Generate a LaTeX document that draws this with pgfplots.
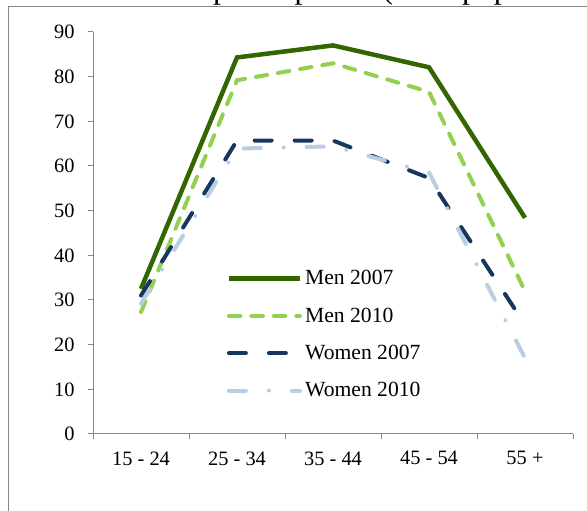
\documentclass[border=0pt]{standalone}
\usepackage{fontspec}
\setmainfont{Liberation Serif}
\usepackage{pgfplots}
\pgfplotsset{compat=1.18}
\definecolor{menA}{HTML}{336600}
\definecolor{menB}{HTML}{92D050}
\definecolor{womA}{HTML}{17375E}
\definecolor{womB}{HTML}{B9CDE5}
\definecolor{axgray}{HTML}{868686}
\begin{document}
\begin{tikzpicture}[x=1bp,y=1bp]
\begin{scope}
\clip (0,0) rectangle (587,511);
\draw[axgray, line width=1bp] (8.5,504) rectangle (640,-40);
\node[anchor=base west, inner sep=0pt, font=\fontsize{32}{38}\selectfont] at (213,512) {participation (\% of population)};
\begin{axis}[
  at={(93bp,77bp)}, anchor=origin, scale only axis, width=480bp, height=402bp,
  xmin=0, xmax=5, ymin=0, ymax=90,
  axis x line=bottom, axis y line=left,
  axis line style={draw=axgray, line width=1bp, -},
  xtick={0,1,2,3,4,5},
  xticklabels={15 - 24,25 - 34,35 - 44,45 - 54,55 +},
  x tick label as interval,
  ytick={0,10,...,90},
  tick align=outside, major tick length=5bp,
  tick style={draw=axgray, line width=1bp},
  ticklabel style={font=\fontsize{20.5}{24}\selectfont},
  xticklabel style={yshift=-9bp},
  yticklabel style={xshift=-10bp},
  /pgf/number format/assume math mode=true,
  legend cell align=left,
  legend style={draw=none, fill=none, at={(axis cs:1.39,37.1)}, anchor=north west,
    font=\fontsize{21.7}{26}\selectfont, row sep=17.5bp, inner sep=0pt,
    nodes={inner sep=2bp},
    /tikz/every odd column/.append style={column sep=1bp}},
  legend image code/.code={\draw[#1] (0bp,0bp) -- (71bp,0bp);},
]
\addplot[menA, line width=4.5bp] coordinates {(0.5,32.5) (1.5,84.3) (2.5,87.0) (3.5,82.1) (4.5,48.4)};
\addlegendentry{Men 2007}
\addplot[menB, line width=4bp, line cap=round, dash pattern=on 11.5bp off 11bp] coordinates {(0.5,27.3) (1.5,79.2) (2.5,83.0) (3.5,76.6) (4.5,32)};
\addlegendentry{Men 2010}
\addplot[womA, line width=4bp, line cap=round, dash pattern=on 17bp off 23bp] coordinates {(0.5,31.0) (1.5,65.7) (2.5,65.7) (3.5,57.3) (4.5,24.5)};
\addlegendentry{Women 2007}
\addplot[womB, line width=4bp, line cap=round, dash pattern=on 17bp off 23bp on 0bp off 23bp] coordinates {(0.5,29.2) (1.5,63.9) (2.5,64.4) (3.5,58.5) (4.5,17)};
\addlegendentry{Women 2010}
\end{axis}
\end{scope}
\pgfresetboundingbox
\useasboundingbox (0,0) rectangle (587,511);
\end{tikzpicture}
\end{document}
